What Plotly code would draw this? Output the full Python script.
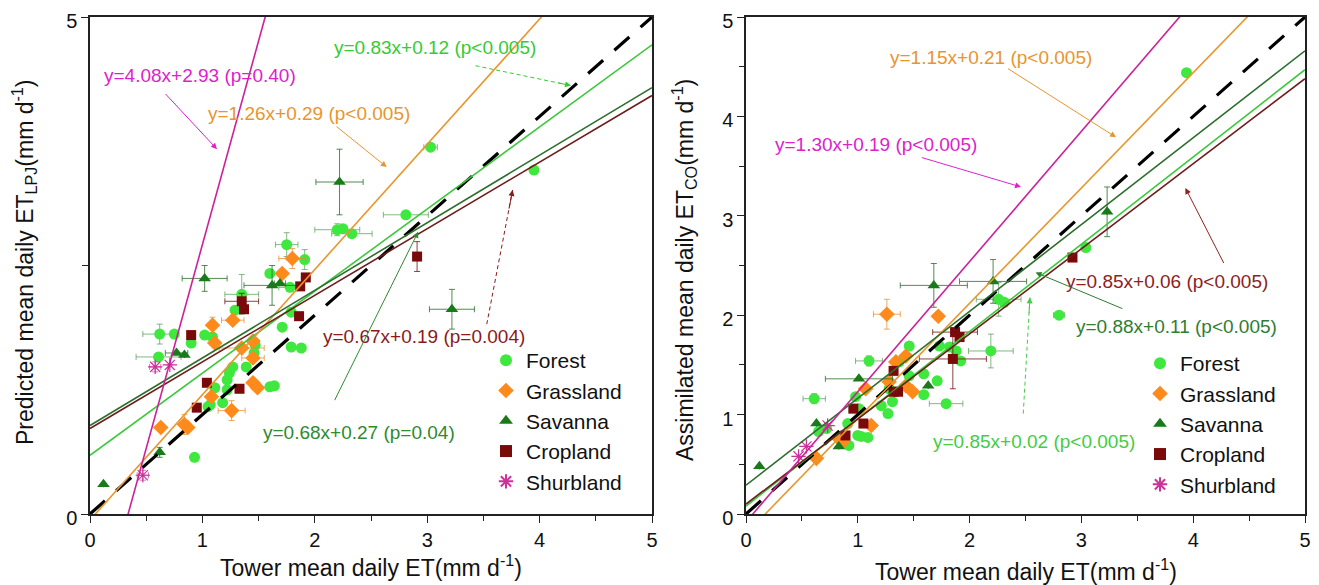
import plotly.graph_objects as go

# ---------------- data (left panel: LPJ) ----------------
LF_x = [2.20,2.25,2.33, 1.75,1.91,1.60, 1.35,1.78,1.29, 1.79,1.71,0.62, 0.75,1.02,1.09, 0.90,1.79,1.88,
        0.61,1.47,1.27, 1.39,1.24,1.22, 1.11,1.22,1.60, 1.64,1.18,1.07, 1.05,0.93,1.46, 3.03,3.95,2.81]
LF_y = [2.86,2.87,2.82, 2.71,2.56,2.42, 2.21,2.28,2.05, 2.03,1.88,1.81, 1.81,1.80,1.78, 1.72,1.68,1.67,
        1.58,1.70,1.48, 1.48,1.42,1.35, 1.27,1.25,1.28, 1.29,1.12,1.10, 1.08,0.57,1.62, 3.69,3.46,3.01]
LF_xe = [0.20,0,0.18, 0.10,0,0, 0.15,0.10,0, 0,0,0.15, 0,0,0, 0,0,0,
         0.20,0,0, 0,0,0, 0,0,0, 0,0,0, 0,0,0, 0.06,0,0.20]
LF_ye = [0.06,0,0, 0.12,0.10,0, 0.20,0,0, 0,0,0.10, 0,0,0, 0,0,0,
         0,0,0, 0,0,0, 0,0,0, 0,0,0, 0,0,0, 0,0,0]

LG_x = [1.80,1.71,1.09,1.27,1.11,1.35,1.45,1.45,1.08,1.45,1.49,1.26,0.63,0.84,0.87]
LG_y = [2.57,2.42,1.90,1.95,1.72,1.67,1.74,1.57,1.18,1.32,1.27,1.04,0.87,0.90,0.87]
LG_xe = [0.12,0,0,0.10,0,0.20,0,0.10,0,0,0,0.12,0,0,0]
LG_ye = [0.10,0,0.08,0,0,0,0,0,0,0,0,0.10,0,0.10,0]

LS_x = [1.02,1.62,1.69,0.77,0.84,0.62,0.12,2.22,3.22]
LS_y = [2.37,2.30,2.32,1.62,1.60,0.62,0.30,3.34,2.06]
LS_xe = [0.20,0.25,0.05,0.10,0,0,0,0.21,0.20]
LS_ye = [0.13,0.20,0,0,0,0.05,0,0.33,0.20]

LC_x = [1.92,1.87,1.35,1.37,0.90,1.86,1.04,1.33,0.95,2.91]
LC_y = [2.38,2.29,2.14,2.06,1.80,1.99,1.32,1.26,1.07,2.59]
LC_xe = [0,0,0.15,0,0,0,0,0,0,0]
LC_ye = [0,0,0.08,0,0,0,0,0,0,0.15]

LH_x = [0.58,0.71,0.47]
LH_y = [1.48,1.50,0.39]
LH_xe = [0.05,0,0.05]
LH_ye = [0.05,0,0.05]

# fitted lines as drawn (slope, intercept): Forest, Grassland, Savanna, Cropland, Shrubland
L_slope = [0.826, 1.26, 0.68, 0.67, 4.10]
L_inter = [0.59, -0.06, 0.89, 0.86, -1.39]

# ---------------- data (right panel: assimilated) ----------------
RF_x = [2.26,2.31,2.80, 2.19,1.46,1.73, 1.82,1.88,1.92, 1.10,0.61,1.46, 1.59,1.71,1.79, 1.59,1.28,1.21,
        1.27,1.31,0.98, 1.01,1.03,1.09, 1.00,0.91,0.92, 0.72,0.65,1.37, 3.94,3.04]
RF_y = [2.16,2.13,2.00, 1.64,1.69,1.69, 1.68,1.64,1.54, 1.54,1.16,1.39, 1.41,1.34,1.11, 1.20,1.26,1.09,
        1.01,1.13,1.18, 1.06,0.78,0.77, 0.79,0.91,0.69, 0.86,0.83,1.53, 4.44,2.68]
RF_xe = [0.20,0,0.05, 0.20,0,0, 0,0,0, 0.12,0.10,0, 0,0,0.15, 0,0,0,
         0,0,0, 0,0,0, 0,0,0, 0,0,0, 0,0]
RF_ye = [0.17,0,0, 0.17,0,0, 0,0,0, 0.05,0.05,0, 0,0,0, 0,0,0,
         0,0,0, 0,0,0, 0,0,0, 0,0,0, 0,0]

RG_x = [1.26,1.72,1.34,1.43,1.28,1.43,1.49,1.12,0.87,0.63,0.83,1.07]
RG_y = [2.01,1.99,1.53,1.59,1.33,1.29,1.23,0.89,0.73,0.56,0.76,1.26]
RG_xe = [0.12,0,0,0,0,0,0,0,0,0,0,0]
RG_ye = [0.15,0,0,0,0,0,0,0,0,0,0,0]

RS_x = [1.68,2.21,3.23,1.01,1.63,0.63,0.83,0.12]
RS_y = [2.30,2.34,3.04,1.36,1.29,0.91,0.68,0.48]
RS_xe = [0.30,0.30,0,0.30,0,0,0,0]
RS_ye = [0.22,0.22,0.25,0,0,0,0,0]

RC_x = [1.87,1.91,1.85,1.32,1.36,1.32,0.96,1.05,0.89,2.92]
RC_y = [1.83,1.78,1.56,1.44,1.23,1.23,1.06,0.91,0.79,2.58]
RC_xe = [0.20,0,0.30,0,0,0,0,0,0,0]
RC_ye = [0,0,0.30,0,0,0,0,0,0,0]

RH_x = [0.73,0.54,0.47]
RH_y = [0.89,0.68,0.58]
RH_xe = [0,0,0]
RH_ye = [0,0,0]

R_slope = [0.878, 1.16, 0.874, 0.856, 1.31]
R_inter = [0.08, -0.20, 0.29, 0.10, -0.08]

CLASSES = ["Forest", "Grassland", "Savanna", "Cropland", "Shurbland"]
X_END = [0, 5]

# styles
MK_COL = ["#3EE83E", "#FF8A1C", "#187A18", "#7A0A0A", "#CC3399"]
ERR_COL = ["rgba(90,160,90,0.75)", "rgba(230,140,50,0.75)", "rgba(40,110,40,0.8)",
           "rgba(110,20,20,0.8)", "rgba(200,60,160,0.7)"]
MK_SYM = ["circle", "diamond", "triangle-up", "square", "asterisk-open"]
MK_SIZE = [11, 12, 11, 10, 12]
LN_COL = ["#3CC83C", "#E8962E", "#2E6E2E", "#6E1C1C", "#CC2299"]

FONT = "Liberation Sans, Arial, sans-serif"

# page layout: the page body has an 8px default margin, so the figure is offset
OX, OY = 8, 8
FW, FH = 1311, 577


def px(xpix):
    return (xpix - OX) / FW


def py(ypix):
    return 1 - (ypix - OY) / FH


fig = go.Figure()

left_sets = [(LF_x, LF_y, LF_xe, LF_ye), (LG_x, LG_y, LG_xe, LG_ye), (LS_x, LS_y, LS_xe, LS_ye),
             (LC_x, LC_y, LC_xe, LC_ye), (LH_x, LH_y, LH_xe, LH_ye)]
right_sets = [(RF_x, RF_y, RF_xe, RF_ye), (RG_x, RG_y, RG_xe, RG_ye), (RS_x, RS_y, RS_xe, RS_ye),
              (RC_x, RC_y, RC_xe, RC_ye), (RH_x, RH_y, RH_xe, RH_ye)]

for sets, slopes, inters, xa, ya, lg in [
        (left_sets, L_slope, L_inter, "x", "y", "legend"),
        (right_sets, R_slope, R_inter, "x2", "y2", "legend2")]:
    for i, (xs, ys, xe, ye) in enumerate(sets):
        fig.add_trace(go.Scatter(
            x=xs, y=ys, mode="markers", name=CLASSES[i], xaxis=xa, yaxis=ya, legend=lg,
            marker=dict(symbol=MK_SYM[i], size=MK_SIZE[i], color=MK_COL[i],
                        line=dict(width=1.2 if i == 4 else 0, color=MK_COL[i])),
            error_x=dict(type="data", array=xe, color=ERR_COL[i], thickness=1, width=3),
            error_y=dict(type="data", array=ye, color=ERR_COL[i], thickness=1, width=3),
        ))
    # 1:1 line
    fig.add_trace(go.Scatter(x=X_END, y=X_END, mode="lines", xaxis=xa, yaxis=ya, showlegend=False,
                             line=dict(color="black", width=3.2, dash="20px,15px"), hoverinfo="skip"))
    for i in range(5):
        yy = [slopes[i] * v + inters[i] for v in X_END]
        fig.add_trace(go.Scatter(x=X_END, y=yy, mode="lines", xaxis=xa, yaxis=ya, showlegend=False,
                                 line=dict(color=LN_COL[i], width=1.6), hoverinfo="skip"))

# ---------------- annotations ----------------
# (text, x, y, color, tail_x, tail_y, head_x, head_y, dashed)
L_ANN = [
    ("y=0.83x+0.12 (p<0.005)", 3.07, 4.69, "#33CC33", 3.43, 4.51, 4.28, 4.31, True),
    ("y=4.08x+2.93 (p=0.40)", 0.98, 4.41, "#DD22CC", 0.66, 4.24, 1.13, 3.67, False),
    ("y=1.26x+0.29 (p<0.005)", 1.95, 4.03, "#E8952E", 2.18, 3.91, 2.64, 3.49, False),
    ("y=0.67x+0.19 (p=0.004)", 2.97, 1.79, "#8B1A1A", 3.53, 1.91, 3.76, 3.26, True),
    ("y=0.68x+0.27 (p=0.04)", 2.39, 0.82, "#2E8B2E", 2.17, 1.13, 2.92, 2.84, False),
]
R_ANN = [
    ("y=1.15x+0.21 (p<0.005)", 2.19, 4.59, "#E8952E", 2.33, 4.49, 3.31, 3.79, False),
    ("y=1.30x+0.19 (p<0.005)", 1.16, 3.72, "#DD22CC", 1.56, 3.59, 2.46, 3.29, False),
    ("y=0.85x+0.06 (p<0.005)", 3.77, 2.34, "#8B2323", 4.28, 2.51, 3.93, 3.28, False),
    ("y=0.88x+0.11 (p<0.005)", 3.85, 1.89, "#2E7D32", 3.38, 2.06, 2.59, 2.43, False),
    ("y=0.85x+0.02 (p<0.005)", 2.58, 0.73, "#44CC44", 2.48, 1.01, 2.54, 2.18, True),
]

annotations = []
shapes = []
for anns, xr, yr in [(L_ANN, "x", "y"), (R_ANN, "x2", "y2")]:
    for (t, tx, ty, col, ax0, ay0, hx, hy, dashed) in anns:
        annotations.append(dict(text=t, x=tx, y=ty, xref=xr, yref=yr, showarrow=False,
                                xanchor="center", yanchor="middle",
                                font=dict(family=FONT, size=19, color=col)))
        if dashed:
            shapes.append(dict(type="line", x0=ax0, y0=ay0, x1=hx, y1=hy, xref=xr, yref=yr,
                               line=dict(color=col, width=1, dash="4px,3px")))
            sx = hx - (hx - ax0) * 0.15
            sy = hy - (hy - ay0) * 0.15
            annotations.append(dict(text="", x=hx, y=hy, ax=sx, ay=sy, xref=xr, yref=yr,
                                    axref=xr, ayref=yr, showarrow=True, arrowhead=2,
                                    arrowsize=1.2, arrowwidth=1, arrowcolor=col))
        else:
            annotations.append(dict(text="", x=hx, y=hy, ax=ax0, ay=ay0, xref=xr, yref=yr,
                                    axref=xr, ayref=yr, showarrow=True, arrowhead=2,
                                    arrowsize=1.2, arrowwidth=1, arrowcolor=col))

TITLE_FONT = dict(family=FONT, size=23, color="#111")
annotations += [
    dict(text="Tower mean daily ET(mm d<sup>-1</sup>)", x=px((90 + 652) / 2), y=py(566),
         xref="paper", yref="paper", showarrow=False, xanchor="center", yanchor="middle",
         font=TITLE_FONT),
    dict(text="Tower mean daily ET(mm d<sup>-1</sup>)", x=px((746 + 1305) / 2), y=py(570),
         xref="paper", yref="paper", showarrow=False, xanchor="center", yanchor="middle",
         font=TITLE_FONT),
    dict(text="Predicted mean daily ET<sub>LPJ</sub>(mm d<sup>-1</sup>)", x=px(24), y=py(263),
         xref="paper", yref="paper", showarrow=False, textangle=-90,
         xanchor="center", yanchor="middle", font=TITLE_FONT),
    dict(text="Assimilated mean daily ET<sub>CO</sub>(mm d<sup>-1</sup>)", x=px(684), y=py(270),
         xref="paper", yref="paper", showarrow=False, textangle=-90,
         xanchor="center", yanchor="middle", font=TITLE_FONT),
]

YDOM = [py(514), py(17)]
axis_common = dict(range=[0, 5], showgrid=False, zeroline=False, showline=True, linecolor="#222",
                   linewidth=1.5, mirror=True, ticks="outside", ticklen=7, tickwidth=1.3,
                   tickcolor="#222", tickfont=dict(family=FONT, size=20, color="#111"),
                   ticklabeloverflow="allow", automargin=False)

LEG_FONT = dict(family=FONT, size=21, color="#111")
fig.update_layout(
    width=FW, height=FH, margin=dict(l=0, r=0, t=0, b=0),
    paper_bgcolor="white", plot_bgcolor="white",
    font=dict(family=FONT),
    xaxis=dict(domain=[px(90), px(652)], anchor="y", tickvals=[0, 1, 2, 3, 4, 5],
               minor=dict(dtick=0.5, ticks="outside", ticklen=5, tickcolor="#222"), **axis_common),
    yaxis=dict(domain=YDOM, anchor="x", tickvals=[0, 5], ticklabelshift=4,
               minor=dict(tickvals=[2.5], ticks="outside", ticklen=6, tickcolor="#222"), **axis_common),
    xaxis2=dict(domain=[px(746), px(1305)], anchor="y2", tickvals=[0, 1, 2, 3, 4, 5],
                minor=dict(dtick=0.5, ticks="outside", ticklen=5, tickcolor="#222"), **axis_common),
    yaxis2=dict(domain=YDOM, anchor="x2", tickvals=[0, 1, 2, 3, 4, 5], ticklabelshift=4,
                minor=dict(dtick=0.5, ticks="outside", ticklen=5, tickcolor="#222"), **axis_common),
    legend=dict(x=px(486), y=py(340), xanchor="left", yanchor="top", bgcolor="rgba(0,0,0,0)",
                font=LEG_FONT, itemsizing="constant", tracegroupgap=0),
    legend2=dict(x=px(1140), y=py(343), xanchor="left", yanchor="top", bgcolor="rgba(0,0,0,0)",
                 font=LEG_FONT, itemsizing="constant", tracegroupgap=0),
    annotations=annotations,
    shapes=shapes,
)

fig.write_html("out.html")
